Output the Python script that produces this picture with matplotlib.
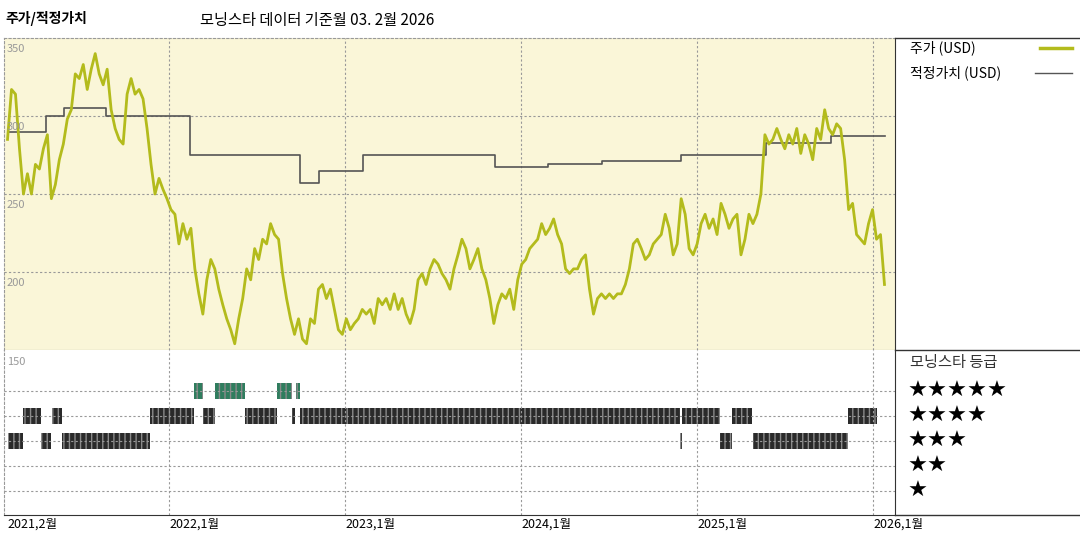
import numpy as np
import matplotlib.pyplot as plt

plt.rcParams['font.family'] = ['Noto Sans CJK KR', 'DejaVu Sans']

# ---------------------------------------------------------------------------
# Datos
# ---------------------------------------------------------------------------
inicio = 2021.08
paso = 0.02266  # años entre observaciones
precio = [
    285, 317, 314, 279, 250, 263, 250, 269, 266, 279, 288, 247, 256, 272, 282, 298,
    304, 327, 324, 333, 317, 330, 340, 327, 320, 330, 304, 292, 285, 282, 314, 324,
    314, 317, 311, 292, 269, 250, 260, 253, 247, 240, 237, 218, 231, 221, 228, 202,
    186, 173, 195, 208, 202, 189, 179, 170, 163, 154, 170, 183, 202, 195, 215, 208,
    221, 218, 231, 224, 221, 199, 183, 170, 160, 170, 157, 154, 170, 167, 189, 192,
    183, 189, 176, 163, 160, 170, 163, 167, 170, 176, 173, 176, 167, 183, 179, 183,
    176, 186, 176, 183, 173, 167, 176, 195, 199, 192, 202, 208, 205, 199, 195, 189,
    202, 211, 221, 215, 202, 208, 215, 202, 195, 183, 167, 179, 186, 183, 189, 176,
    195, 205, 208, 215, 218, 221, 231, 224, 228, 234, 224, 218, 202, 199, 202, 202,
    208, 211, 189, 173, 183, 186, 183, 186, 183, 186, 186, 192, 202, 218, 221, 215,
    208, 211, 218, 221, 224, 237, 228, 211, 218, 247, 237, 215, 211, 218, 231, 237,
    228, 234, 224, 244, 237, 228, 234, 237, 211, 221, 237, 231, 237, 250, 288, 282,
    285, 292, 285, 279, 288, 282, 292, 276, 288, 282, 272, 292, 285, 304, 292, 288,
    295, 292, 272, 240, 244, 224, 221, 218, 231, 240, 221, 224, 192,
]

fv_inicio = [2021.08, 2021.30, 2021.40, 2021.64, 2022.12, 2022.74, 2022.85, 2023.10,
             2023.85, 2024.15, 2024.46, 2024.91, 2025.39, 2025.76]
fv_valor = [290, 300, 305, 300, 275, 257, 265, 275, 267, 269, 271, 275, 283, 287]
fv_fin = 2026.07

rating_desde = [2021.08, 2021.27, 2021.39, 2024.90, 2025.13, 2025.32,
                2021.17, 2021.335, 2021.89, 2022.19, 2022.43, 2022.70, 2022.74,
                2024.915, 2025.20, 2025.86,
                2022.14, 2022.26, 2022.61, 2022.72]
rating_hasta = [2021.17, 2021.33, 2021.89, 2024.915, 2025.20, 2025.86,
                2021.27, 2021.39, 2022.14, 2022.26, 2022.61, 2022.715, 2024.90,
                2025.13, 2025.31, 2026.02,
                2022.19, 2022.43, 2022.70, 2022.74]
rating_estrellas = [3, 3, 3, 3, 3, 3,
                    4, 4, 4, 4, 4, 4, 4, 4, 4, 4,
                    5, 5, 5, 5]

ticks_x = [2021.08, 2022, 2023, 2024, 2025, 2026]
ticks_lbl = ["2021,2월", "2022,1월", "2023,1월", "2024,1월", "2025,1월", "2026,1월"]

X0, X1 = 2021.06, 2026.125
VERDE = "#b3bb1c"
GRIS = "#999999"

# ---------------------------------------------------------------------------
# Figura
# ---------------------------------------------------------------------------
fig = plt.figure(figsize=(10.8, 5.4), dpi=100)
W, H = 1080, 540


def caja(x, y, w, h):
    return [x / W, 1 - (y + h) / H, w / W, h / H]


ax = fig.add_axes(caja(4, 38, 891, 312))
ax2 = fig.add_axes(caja(4, 350, 891, 165))

t = inicio + paso * np.arange(len(precio))
ax.set_facecolor("#faf6d8")
for v in [300, 250, 200]:
    ax.axhline(v, color=GRIS, ls=(0, (2, 2)), lw=0.8)
for xv in ticks_x[1:]:
    ax.axvline(xv, color=GRIS, ls=(0, (2, 2)), lw=0.8)
    ax2.axvline(xv, color=GRIS, ls=(0, (2, 2)), lw=0.8)
ax.step(fv_inicio + [fv_fin], fv_valor + [fv_valor[-1]], where="post",
        color="#555555", lw=1.2)
ax.plot(t, precio, color=VERDE, lw=2.0)
ax.set_xlim(X0, X1)
ax.set_ylim(150, 350)
ax.set_xticks([])
ax.set_yticks([])
for v in [350, 300, 250, 200]:
    ax.text(X0 + 0.015, v - 7, str(v), fontsize=8, color="#999999", va="center")
for s in ["top", "left"]:
    ax.spines[s].set_linestyle((0, (2, 2)))
    ax.spines[s].set_color(GRIS)
ax.spines["right"].set_color("#333333")
ax.spines["bottom"].set_color("#777777")

# Calificaciones
niveles = {k: 24 + 25 * (k - 1) for k in range(1, 6)}
for k, yv in niveles.items():
    ax2.axhline(yv, color=GRIS, ls=(0, (2, 2)), lw=0.8)
for a, b, k in zip(rating_desde, rating_hasta, rating_estrellas):
    col = "#2f7d5e" if k == 5 else "#2a2a2a"
    ax2.broken_barh([(a, b - a)], (niveles[k] - 8, 16), facecolors=col,
                    edgecolor="#8a8a8a", hatch="|||", lw=0)
ax2.set_xlim(X0, X1)
ax2.set_ylim(0, 165)
ax2.set_yticks([])
ax2.set_xticks(ticks_x)
ax2.set_xticklabels(ticks_lbl, fontsize=9, ha="left")
ax2.tick_params(axis="x", length=0, pad=2)
ax2.text(X0 + 0.015, 153, "150", fontsize=8, color="#999999", va="center")
ax2.spines["top"].set_visible(False)
ax2.spines["left"].set_linestyle((0, (2, 2)))
ax2.spines["left"].set_color(GRIS)
ax2.spines["right"].set_color("#333333")
ax2.spines["bottom"].set_color("#333333")

# Títulos
fig.text(5 / W, 1 - 18 / H, "주가/적정가치", fontsize=10, fontweight="bold", va="center")
fig.text(200 / W, 1 - 20 / H, "모닝스타 데이터 기준월 03. 2월 2026", fontsize=11, va="center")

# Panel derecho
for yv in [38, 350, 515]:
    fig.add_artist(plt.Line2D([895 / W, 1], [1 - yv / H] * 2, color="#333333", lw=1))
fig.text(910 / W, 1 - 48 / H, "주가 (USD)", fontsize=10, va="center")
fig.add_artist(plt.Line2D([1040 / W, 1072 / W], [1 - 48 / H] * 2, color=VERDE, lw=2.5))
fig.text(910 / W, 1 - 73 / H, "적정가치 (USD)", fontsize=10, va="center")
fig.add_artist(plt.Line2D([1035 / W, 1072 / W], [1 - 73 / H] * 2, color="#555555", lw=1))
fig.text(910 / W, 1 - 362 / H, "모닝스타 등급", fontsize=11, va="center", color="#333333")
for k in range(5, 0, -1):
    yv = 515 - niveles[k]
    fig.text(908 / W, 1 - yv / H, "★" * k, fontsize=16, va="center",
             family=["DejaVu Sans"])

fig.savefig("out.png", dpi=100)
